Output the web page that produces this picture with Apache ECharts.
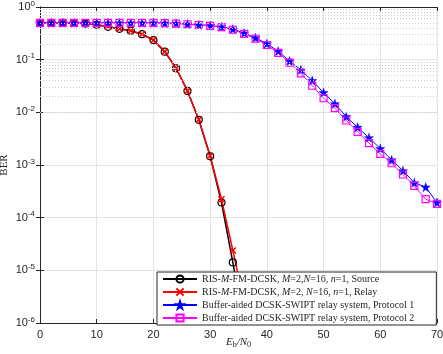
<!DOCTYPE html>
<html>
<head>
<meta charset="utf-8">
<title>BER</title>
<script src="https://cdn.jsdelivr.net/npm/echarts@6/dist/echarts.min.js"></script>
<style>
  html, body { margin: 0; padding: 0; background: #fff; }
  #myChart { width: 443px; height: 354px; }
</style>
</head>
<body>
<div id="myChart"></div>
<script>
// Eb/N0 points
const snrRis = [0, 2, 4, 6, 8, 10, 12, 14, 16, 18, 20, 22, 24, 26, 28, 30, 32, 34, 36]
const snrBuffer = [0, 2, 4, 6, 8, 10, 12, 14, 16, 18, 20, 22, 24, 26, 28, 30, 32, 34,
  36, 38, 40, 42, 44, 46, 48, 50, 52, 54, 56, 58, 60, 62, 64, 66, 68, 70]

// BER values (last RIS points sit behind the legend)
const berSource = [0.50, 0.50, 0.50, 0.495, 0.485, 0.46, 0.42, 0.385, 0.355, 0.305,
  0.235, 0.142, 0.0686, 0.0255, 0.0072, 0.00146, 0.000194, 0.0000141, 0.0000009]
const berRelay = [0.50, 0.50, 0.50, 0.495, 0.485, 0.46, 0.42, 0.385, 0.355, 0.305,
  0.235, 0.142, 0.0686, 0.0255, 0.0073, 0.0015, 0.000224, 0.0000238, 0.0000025]
const berProtocol1 = [0.50, 0.50, 0.50, 0.50, 0.50, 0.50, 0.50, 0.50, 0.50, 0.50,
  0.50, 0.495, 0.49, 0.475, 0.46, 0.445, 0.42, 0.38, 0.32, 0.26, 0.20, 0.145,
  0.094, 0.064, 0.040, 0.0237, 0.0146, 0.0083, 0.0052, 0.0033, 0.00205, 0.00125,
  0.00078, 0.00046, 0.00038, 0.000194]
const berProtocol2 = [0.50, 0.50, 0.50, 0.50, 0.50, 0.50, 0.50, 0.50, 0.50, 0.50,
  0.50, 0.495, 0.485, 0.47, 0.455, 0.44, 0.415, 0.37, 0.31, 0.25, 0.19, 0.135,
  0.088, 0.055, 0.032, 0.0185, 0.0120, 0.0070, 0.00425, 0.0026, 0.00162, 0.00108,
  0.00066, 0.00040, 0.000224, 0.000183]

const seriesNames = [
  'RIS-M-FM-DCSK, M=2,N=16, n=1, Source',
  'RIS-M-FM-DCSK, M=2, N=16, n=1, Relay',
  'Buffer-aided DCSK-SWIPT relay system, Protocol 1',
  'Buffer-aided DCSK-SWIPT relay system, Protocol 2'
]
const legendRich = {
  [seriesNames[0]]: 'RIS-{i|M}-FM-DCSK, {i|M}=2,{i|N}=16, {i|n}=1, Source',
  [seriesNames[1]]: 'RIS-{i|M}-FM-DCSK, {i|M}=2, {i|N}=16, {i|n}=1, Relay',
  [seriesNames[2]]: seriesNames[2],
  [seriesNames[3]]: seriesNames[3]
}

// decades for the log axis, and the dotted minor grid in between
const decades = [-6, -5, -4, -3, -2, -1]
const minorGrid = []
decades.forEach(function(d) {
  for (let m = 2; m <= 9; m++) minorGrid.push(m * Math.pow(10, d))
})

const star = 'path://M50,0L61,35L98,35L68,57L79,91L50,70L21,91L32,57L2,35L39,35Z'
const cross = 'path://M0,0L10,10M10,0L0,10'
const axisColor = '#262626'
const sansFont = 'Liberation Sans'
const serifFont = 'Liberation Serif'

function pairs(xs, ys) {
  return xs.map(function(x, i) { return [x, ys[i]] })
}

const chart = echarts.init(document.getElementById('myChart'), null, { renderer: 'canvas' })

chart.setOption({
  animation: false,
  grid: { left: 40, right: 6, top: 7, bottom: 31, containLabel: false, outerBoundsMode: 'none' },
  legend: {
    orient: 'vertical',
    left: 157,
    top: 272,
    itemWidth: 34,
    itemHeight: 9,
    itemGap: 3,
    padding: [2, 22, 2, 5],
    backgroundColor: '#fff',
    borderColor: axisColor,
    borderWidth: 1,
    data: seriesNames,
    formatter: function(name) { return legendRich[name] },
    textStyle: {
      fontFamily: serifFont,
      fontSize: 10,
      color: axisColor,
      rich: {
        i: { fontFamily: serifFont, fontSize: 10, fontStyle: 'italic', color: axisColor }
      }
    }
  },
  xAxis: [
    {
      type: 'value',
      min: 0,
      max: 70,
      interval: 10,
      name: '{i|E}{s|b}{i|/N}{s|0}',
      nameLocation: 'middle',
      nameGap: 13,
      nameMoveOverlap: false,
      nameTextStyle: {
        verticalAlign: 'top',
        rich: {
          i: { fontFamily: serifFont, fontSize: 11, fontStyle: 'italic', color: axisColor },
          s: { fontFamily: serifFont, fontSize: 8, color: axisColor, verticalAlign: 'bottom', padding: [5, 0, 0, 0] }
        }
      },
      axisLine: { lineStyle: { color: axisColor, width: 1 } },
      axisTick: { inside: true, length: 4, lineStyle: { color: axisColor } },
      axisLabel: { color: axisColor, fontFamily: sansFont, fontSize: 11, margin: 6 },
      splitLine: { show: true, lineStyle: { color: '#e4e4e4', width: 1 } }
    },
    {
      type: 'value',
      position: 'top',
      min: 0,
      max: 70,
      interval: 10,
      axisLine: { lineStyle: { color: axisColor, width: 1 } },
      axisTick: { inside: true, length: 4, lineStyle: { color: axisColor } },
      axisLabel: { show: false },
      splitLine: { show: false }
    }
  ],
  yAxis: [
    {
      type: 'log',
      logBase: 10,
      min: 1e-6,
      max: 1,
      interval: 1,
      name: 'BER',
      nameLocation: 'middle',
      nameGap: 30,
      nameMoveOverlap: false,
      nameTextStyle: { fontFamily: serifFont, fontSize: 11, color: axisColor },
      axisLine: { lineStyle: { color: axisColor, width: 1 } },
      axisTick: { inside: true, length: 4, lineStyle: { color: axisColor } },
      axisLabel: {
        color: axisColor,
        margin: 5,
        formatter: function(v) {
          return '{b|10}{s|' + Math.round(Math.log10(v)) + '}'
        },
        rich: {
          b: { fontFamily: sansFont, fontSize: 11, color: axisColor },
          s: { fontFamily: sansFont, fontSize: 8, color: axisColor, verticalAlign: 'top', padding: [0, 0, 7, 0] }
        }
      },
      splitLine: { show: true, lineStyle: { color: '#e4e4e4', width: 1 } }
    },
    {
      type: 'log',
      logBase: 10,
      min: 1e-6,
      max: 1,
      interval: 1,
      position: 'right',
      axisLine: { lineStyle: { color: axisColor, width: 1 } },
      axisTick: { inside: true, length: 4, lineStyle: { color: axisColor } },
      axisLabel: { show: false },
      splitLine: { show: false }
    }
  ],
  series: [
    {
      type: 'line',
      name: 'minor-grid',
      data: [],
      z: 1,
      silent: true,
      markLine: {
        silent: true,
        symbol: ['none', 'none'],
        label: { show: false },
        lineStyle: { color: '#cfcfcf', type: [1, 2], width: 1 },
        data: minorGrid.map(function(v) { return { yAxis: v } })
      }
    },
    {
      type: 'line',
      name: seriesNames[0],
      data: pairs(snrRis, berSource),
      z: 3,
      symbol: 'circle',
      symbolSize: 7,
      lineStyle: { color: '#000', width: 1.5 },
      itemStyle: { color: 'rgba(0,0,0,0)', borderColor: '#000', borderWidth: 1.2 }
    },
    {
      type: 'line',
      name: seriesNames[1],
      data: pairs(snrRis, berRelay),
      z: 3,
      symbol: cross,
      symbolSize: 6,
      lineStyle: { color: '#ff0000', width: 1.5 },
      itemStyle: { color: '#ff0000', borderColor: '#ff0000', borderWidth: 1.5 }
    },
    {
      type: 'line',
      name: seriesNames[2],
      data: pairs(snrBuffer, berProtocol1),
      z: 3,
      symbol: star,
      symbolSize: 9,
      lineStyle: { color: '#0000ff', width: 1 },
      itemStyle: { color: '#0000ff', borderColor: '#0000ff', borderWidth: 0.5 }
    },
    {
      type: 'line',
      name: seriesNames[3],
      data: pairs(snrBuffer, berProtocol2),
      z: 3,
      symbol: 'rect',
      symbolSize: 7,
      lineStyle: { color: '#ff00ff', width: 1 },
      itemStyle: { color: 'rgba(0,0,0,0)', borderColor: '#ff00ff', borderWidth: 1.2 }
    }
  ]
})
</script>
</body>
</html>
